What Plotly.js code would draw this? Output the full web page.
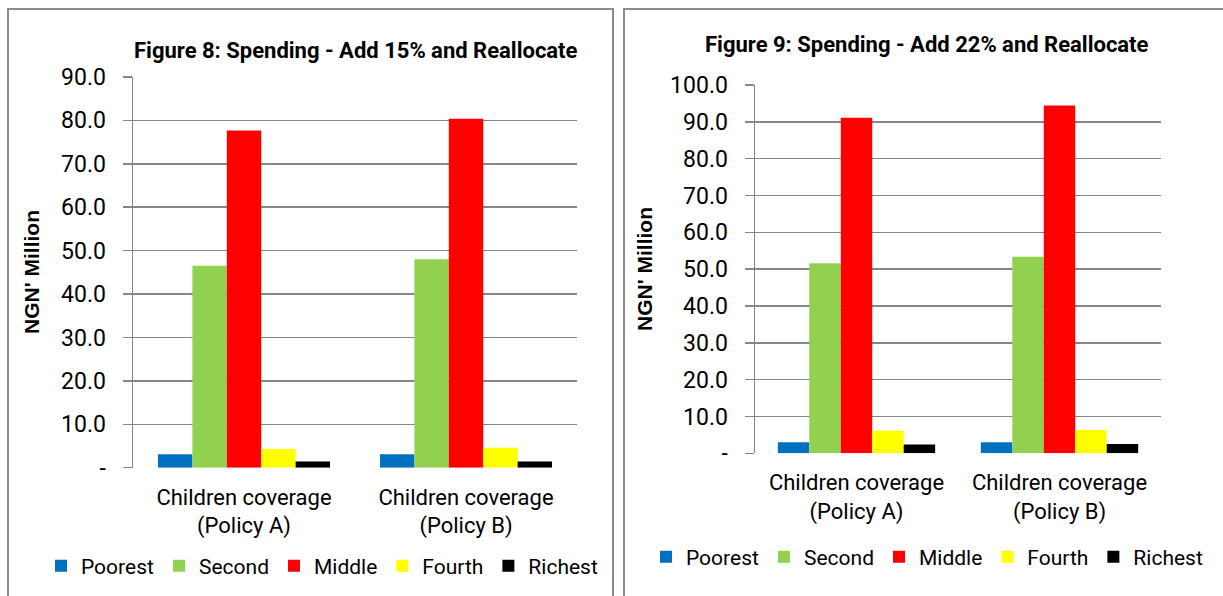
<!DOCTYPE html>
<html>
<head>
<meta charset="utf-8">
<script src="https://cdn.plot.ly/plotly-3.0.1.min.js"></script>
<style>html,body{margin:0;padding:0;background:#fff;} #chart{width:1223px;height:596px;}</style>
</head>
<body>
<div id="chart"></div>
<script>
const categories = ["Children coverage<br>(Policy A)", "Children coverage<br>(Policy B)"];
const seriesNames = ["Poorest", "Second", "Middle", "Fourth", "Richest"];
const seriesColors = ["#0070C0", "#92D050", "#FF0000", "#FFFF00", "#000000"];

// Figure 8: Add 15% and Reallocate
const fig8Poorest = [3.1, 3.1];
const fig8Second  = [46.5, 48.0];
const fig8Middle  = [77.7, 80.4];
const fig8Fourth  = [4.3, 4.6];
const fig8Richest = [1.4, 1.4];

// Figure 9: Add 22% and Reallocate
const fig9Poorest = [3.0, 3.0];
const fig9Second  = [51.6, 53.4];
const fig9Middle  = [91.1, 94.4];
const fig9Fourth  = [6.1, 6.3];
const fig9Richest = [2.4, 2.5];

const fig8TickVals = [0, 10, 20, 30, 40, 50, 60, 70, 80, 90];
const fig8TickText = ["-", "10.0", "20.0", "30.0", "40.0", "50.0", "60.0", "70.0", "80.0", "90.0"];
const fig9TickVals = [0, 10, 20, 30, 40, 50, 60, 70, 80, 90, 100];
const fig9TickText = ["-", "10.0", "20.0", "30.0", "40.0", "50.0", "60.0", "70.0", "80.0", "90.0", "100.0"];

const fig8Title = "Figure 8: Spending - Add 15% and Reallocate";
const fig9Title = "Figure 9: Spending - Add 22% and Reallocate";
const yTitle = "NGN' Million";

const narrow = "Roboto, 'Liberation Sans', Arial, sans-serif";
const boldFont = "'Liberation Sans', Arial, sans-serif";

const fig8Data = [fig8Poorest, fig8Second, fig8Middle, fig8Fourth, fig8Richest];
const fig9Data = [fig9Poorest, fig9Second, fig9Middle, fig9Fourth, fig9Richest];

const traces = [];
fig8Data.forEach((vals, i) => traces.push({
  type: 'bar', x: categories, y: vals, name: seriesNames[i],
  marker: {color: seriesColors[i]}, xaxis: 'x', yaxis: 'y', legend: 'legend',
  hoverinfo: 'skip'
}));
fig9Data.forEach((vals, i) => traces.push({
  type: 'bar', x: categories, y: vals, name: seriesNames[i],
  marker: {color: seriesColors[i]}, xaxis: 'x2', yaxis: 'y2', legend: 'legend2',
  hoverinfo: 'skip'
}));

const W = 1223, H = 596;
const px = v => v / W;
const py = v => 1 - v / H;
const grid = '#878787';

const yCommon = {
  showgrid: true, gridcolor: grid, gridwidth: 1.5,
  showline: true, linecolor: grid, linewidth: 1.5,
  ticks: 'outside', ticklen: 9, tickcolor: grid, tickwidth: 1.5,
  ticklabelstandoff: 12,
  tickfont: {family: narrow, size: 23, color: '#000'},
  zeroline: false, fixedrange: true
};
const xCommon = {
  showline: false, showgrid: false, ticks: '',
  ticklabelstandoff: 14,
  tickfont: {family: narrow, size: 22, color: '#000'},
  fixedrange: true
};

const layout = {
  width: W, height: H,
  margin: {l: 0, r: 0, t: 0, b: 0},
  paper_bgcolor: '#fff', plot_bgcolor: '#fff',
  barmode: 'group', bargap: 0.225, bargroupgap: 0,
  showlegend: true,
  xaxis: Object.assign({}, xCommon, {domain: [px(133), px(577)], anchor: 'y'}),
  yaxis: Object.assign({}, yCommon, {domain: [py(467.7), py(77)], anchor: 'x',
    range: [0, 90], tickvals: fig8TickVals, ticktext: fig8TickText}),
  xaxis2: Object.assign({}, xCommon, {domain: [px(755), px(1161)], anchor: 'y2'}),
  yaxis2: Object.assign({}, yCommon, {domain: [py(453.3), py(85)], anchor: 'x2',
    range: [0, 100], tickvals: fig9TickVals, ticktext: fig9TickText}),
  legend: {orientation: 'h', x: px(322), xanchor: 'center', y: py(566), yanchor: 'middle',
    font: {family: narrow, size: 21, color: '#000'}, itemwidth: 30, tracegroupgap: 0,
    bgcolor: 'rgba(0,0,0,0)'},
  legend2: {orientation: 'h', x: px(927), xanchor: 'center', y: py(557), yanchor: 'middle',
    font: {family: narrow, size: 21, color: '#000'}, itemwidth: 30, tracegroupgap: 0,
    bgcolor: 'rgba(0,0,0,0)'},
  annotations: [
    {text: '<b>' + fig8Title + '</b>', xref: 'paper', yref: 'paper', x: px(356), y: py(50),
      xanchor: 'center', yanchor: 'middle', showarrow: false,
      font: {family: narrow, size: 22, color: '#000'}},
    {text: '<b>' + fig9Title + '</b>', xref: 'paper', yref: 'paper', x: px(927), y: py(44),
      xanchor: 'center', yanchor: 'middle', showarrow: false,
      font: {family: narrow, size: 22, color: '#000'}},
    {text: '<b>' + yTitle + '</b>', xref: 'paper', yref: 'paper', x: px(31), y: py(272),
      xanchor: 'center', yanchor: 'middle', showarrow: false, textangle: -90,
      font: {family: boldFont, size: 21, color: '#000'}},
    {text: '<b>' + yTitle + '</b>', xref: 'paper', yref: 'paper', x: px(645), y: py(269),
      xanchor: 'center', yanchor: 'middle', showarrow: false, textangle: -90,
      font: {family: boldFont, size: 21, color: '#000'}}
  ],
  shapes: [
    {type: 'rect', xref: 'paper', yref: 'paper', x0: px(8), x1: px(613), y0: py(620), y1: py(9),
      line: {color: '#8c8c8c', width: 2}, fillcolor: 'rgba(0,0,0,0)', layer: 'above'},
    {type: 'rect', xref: 'paper', yref: 'paper', x0: px(624), x1: px(1240), y0: py(620), y1: py(9),
      line: {color: '#8c8c8c', width: 2}, fillcolor: 'rgba(0,0,0,0)', layer: 'above'}
  ]
};

Plotly.newPlot('chart', traces, layout, {staticPlot: true, displayModeBar: false});
</script>
</body>
</html>
